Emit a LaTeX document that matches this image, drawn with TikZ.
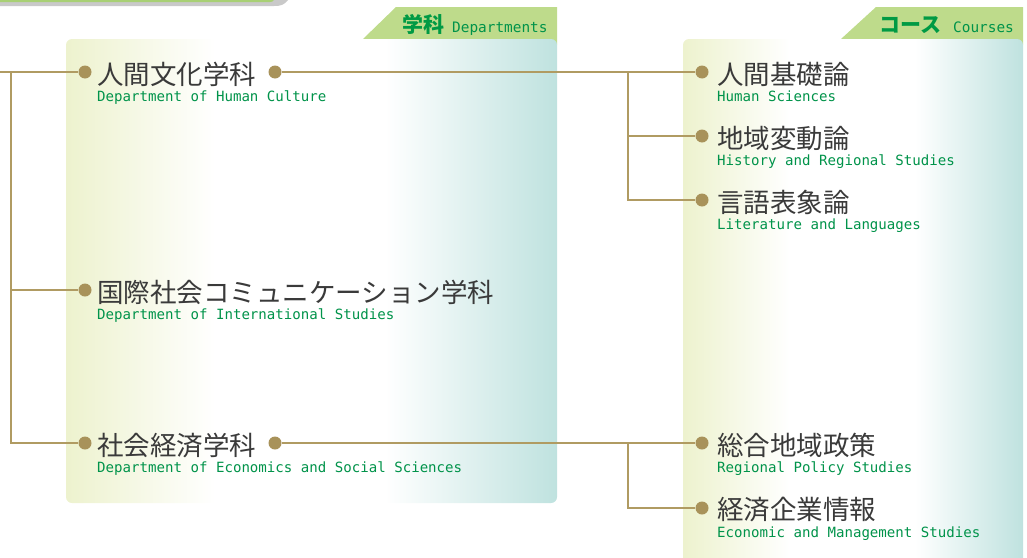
\documentclass[tikz,border=0pt]{standalone}
\usepackage{fontspec}
\newfontfamily\jp{Noto Sans CJK JP}
\newfontfamily\mono{DejaVu Sans Mono}
\definecolor{linec}{HTML}{B09B62}
\definecolor{dotc}{HTML}{A8925A}
\definecolor{tabg}{HTML}{BEDB8B}
\definecolor{textg}{HTML}{00934A}
\definecolor{boldg}{HTML}{009A44}
\definecolor{jpgray}{HTML}{3A3A3A}
\definecolor{pyel}{HTML}{EDF2CE}
\definecolor{pteal}{HTML}{BFE2DF}
\definecolor{topgreen}{HTML}{A8D074}
\definecolor{topgray}{HTML}{C9C9C9}
\tikzset{
  bead/.style={circle,fill=dotc,inner sep=0pt,minimum size=13pt},
  jptext/.style={anchor=west,inner sep=0pt,text=jpgray,font=\jp\fontsize{26.5}{26.5}\selectfont},
  entext/.style={anchor=base west,inner sep=0pt,text=textg,font=\mono\fontsize{14.1}{14.1}\selectfont},
  tabjp/.style={anchor=base west,inner sep=0pt,text=boldg,font=\jp\bfseries\fontsize{21}{21}\selectfont},
  taben/.style={anchor=base west,inner sep=0pt,text=textg,font=\mono\fontsize{14.4}{14.4}\selectfont},
  conn/.style={draw=linec,line width=1.5pt},
}
\begin{document}
\begin{tikzpicture}[x=1pt,y=-1pt]
\useasboundingbox (0,0) rectangle (1027,557);
% top-left decoration
\fill[topgray] (0,0) -- (288,0) .. controls (284,5) and (281,6) .. (274,6) -- (0,6) -- cycle;
\fill[topgreen] (0,0) -- (274,0) .. controls (273,1.5) and (272,2) .. (270,2) -- (0,2) -- cycle;
% tabs
\fill[tabg] (363,45) -- (363,39) -- (396,7) -- (557,7) -- (557,45) -- cycle;
\fill[tabg] (841,45) -- (841,39) -- (876,7) -- (1023,7) -- (1023,45) -- cycle;
% left panel
\begin{scope}
\clip[rounded corners=6pt] (66,39) rectangle (557,503);
\shade[left color=pyel,right color=white] (66,39) rectangle (215,503);
\fill[white] (214.5,39) rectangle (385.5,503);
\shade[left color=white,right color=pteal] (385,39) rectangle (557,503);
\end{scope}
% right panel
\begin{scope}
\clip[rounded corners=6pt] (683,39) rectangle (1023,575);
\shade[left color=pyel,right color=white] (683,39) rectangle (790,575);
\fill[white] (789.5,39) rectangle (915.5,575);
\shade[left color=white,right color=pteal] (915,39) rectangle (1023,575);
\end{scope}
% tab texts
\node[tabjp] (tabA) at (402,32) {学科};
\node[taben] (tabAe) at (452,32) {Departments};
\node[tabjp] (tabB) at (879,32) {コース};
\node[taben] (tabBe) at (953,32) {Courses};
% departments
\node[bead] (d1) at (85,72) {};
\node[jptext] (t1) at (97,74) {人間文化学科};
\node[entext] (e1) at (97,101) {Department of Human Culture};
\node[bead] (d1b) at (275,72) {};
\node[bead] (d2) at (85,290) {};
\node[jptext] (t2) at (97,292) {国際社会コミュニケーション学科};
\node[entext] (e2) at (97,319) {Department of International Studies};
\node[bead] (d3) at (85,443) {};
\node[jptext] (t3) at (97,445) {社会経済学科};
\node[entext] (e3) at (97,472) {Department of Economics and Social Sciences};
\node[bead] (d3b) at (275,443) {};
% courses
\node[bead] (c1) at (702,72) {};
\node[jptext] (u1) at (717,74) {人間基礎論};
\node[entext] (f1) at (717,101) {Human Sciences};
\node[bead] (c2) at (702,136) {};
\node[jptext] (u2) at (717,138) {地域変動論};
\node[entext] (f2) at (717,165) {History and Regional Studies};
\node[bead] (c3) at (702,200) {};
\node[jptext] (u3) at (717,202) {言語表象論};
\node[entext] (f3) at (717,229) {Literature and Languages};
\node[bead] (c4) at (702,443) {};
\node[jptext] (u4) at (717,445) {総合地域政策};
\node[entext] (f4) at (717,472) {Regional Policy Studies};
\node[bead] (c5) at (702,508) {};
\node[jptext] (u5) at (717,510) {経済企業情報};
\node[entext] (f5) at (717,537) {Economic and Management Studies};
% connectors
\coordinate (L0) at (0,72);
\coordinate (L1) at (11,72);
\coordinate (J1) at (628,72);
\coordinate (J2) at (628,443);
\draw[conn] (L0) -- (d1);
\draw[conn] (L1) |- (d3);
\draw[conn] (L1 |- d2) -- (d2);
\draw[conn] (d1b) -- (c1);
\draw[conn] (J1) |- (c3);
\draw[conn] (J1 |- c2) -- (c2);
\draw[conn] (d3b) -- (c4);
\draw[conn] (J2) |- (c5);
\end{tikzpicture}
\end{document}
